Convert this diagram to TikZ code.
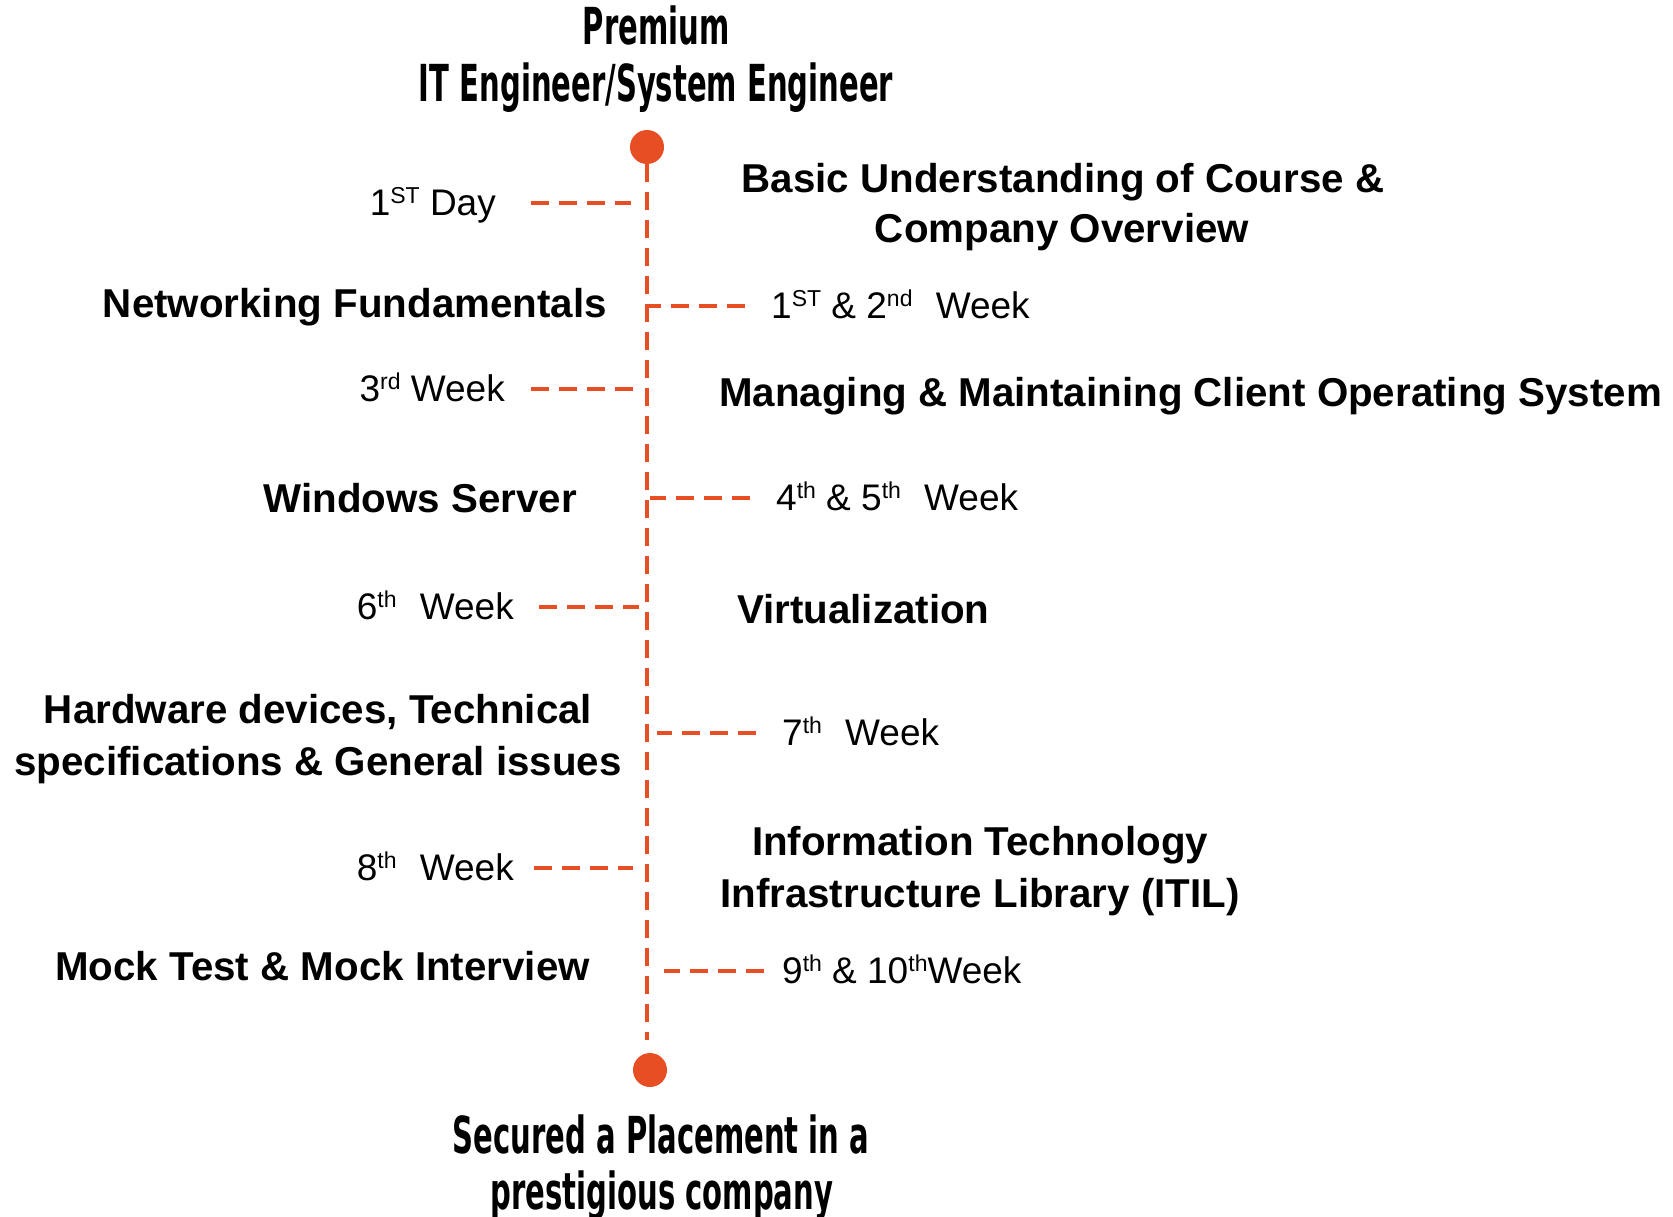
\documentclass[tikz,border=0pt]{standalone}
\usepackage{fontspec}
\setmainfont{Liberation Sans}
\newfontfamily\headfont[FakeStretch=0.57]{DejaVu Sans}
\definecolor{tlorange}{HTML}{E84E24}
\newcommand{\supr}[1]{\raisebox{12pt}{\fontsize{23}{23}\selectfont #1}}

\begin{document}
\begin{tikzpicture}[x=1pt,y=-1pt,
    dot/.style={circle,fill=tlorange,inner sep=0pt,minimum size=34pt},
    link/.style={draw=tlorange,line width=4pt,dash pattern=on 18pt off 10pt},
    topic/.style={font=\fontsize{40.3}{52}\selectfont\bfseries,inner sep=0pt},
    week/.style={font=\fontsize{37}{44}\selectfont,inner sep=0pt,text height=30pt,text depth=6pt},
    head/.style={font=\headfont\fontsize{51}{57}\selectfont\bfseries,inner sep=0pt,anchor=base}]
        \useasboundingbox (0,0) rectangle (1673,1217);

        \node[head] (T1) at (656,45) {Premium};
        \node[head] (T2) at (656,102) {IT Engineer/System Engineer};
        \node[dot] (top) at (647,147) {};
        \node[dot] (bot) at (650,1070) {};
        \node[head] (P1) at (661,1153) {Secured a Placement in a};
        \node[head] (P2) at (662,1209) {prestigious company};

        \draw[link,shorten >=13pt] (top) -- (top |- bot.north);

        % timeline labels
        \node[week,anchor=east] (d1) at (496,203) {1\supr{ST} Day};
        \node[week,anchor=west] (d2) at (771,306) {1\supr{ST} \& 2\supr{nd}\hspace{0.35em} Week};
        \node[week,anchor=east] (d3) at (505,389) {3\supr{rd} Week};
        \node[week,anchor=west] (d4) at (776,498) {4\supr{th} \& 5\supr{th}\hspace{0.35em} Week};
        \node[week,anchor=east] (d5) at (514,607) {6\supr{th}\hspace{0.35em} Week};
        \node[week,anchor=west] (d6) at (782,733) {7\supr{th}\hspace{0.35em} Week};
        \node[week,anchor=east] (d7) at (514,868) {8\supr{th}\hspace{0.35em} Week};
        \node[week,anchor=west] (d8) at (782,971) {9\supr{th} \& 10\supr{th}Week};

        % course topics
        \node[topic,anchor=base] (c1) at (1063,193) {Basic Understanding of Course \&};
        \node[topic,anchor=base] (c1b) at (1062,243) {Company Overview};
        \node[topic,anchor=base east] (c2) at (607,317) {Networking Fundamentals};
        \node[topic,anchor=base west] (c3) at (719,406) {Managing \& Maintaining Client Operating System};
        \node[topic,anchor=base east] (c4) at (577,512) {Windows Server};
        \node[topic,anchor=base west] (c5) at (737,623) {Virtualization};
        \node[topic,anchor=base] (c6) at (318,723) {Hardware devices, Technical};
        \node[topic,anchor=base] (c6b) at (318,775) {specifications \& General issues};
        \node[topic,anchor=base] (c7) at (980,855) {Information Technology};
        \node[topic,anchor=base] (c7b) at (980,907) {Infrastructure Library (ITIL)};
        \node[topic,anchor=base east] (c8) at (590,980) {Mock Test \& Mock Interview};

        \draw[link,shorten <=35pt,shorten >=16pt] (d1.east) -- (d1.east -| top);
        \draw[link,shorten <=26pt,shorten >=0pt] (d2.west) -- (d2.west -| top);
        \draw[link,shorten <=26pt,shorten >=14pt] (d3.east) -- (d3.east -| top);
        \draw[link,shorten <=26pt,shorten >=3pt] (d4.west) -- (d4.west -| top);
        \draw[link,shorten <=25pt,shorten >=8pt] (d5.east) -- (d5.east -| top);
        \draw[link,shorten <=26pt,shorten >=10pt] (d6.west) -- (d6.west -| top);
        \draw[link,shorten <=20pt,shorten >=14pt] (d7.east) -- (d7.east -| top);
        \draw[link,shorten <=18pt,shorten >=17pt] (d8.west) -- (d8.west -| top);
      \end{tikzpicture}
\end{document}
